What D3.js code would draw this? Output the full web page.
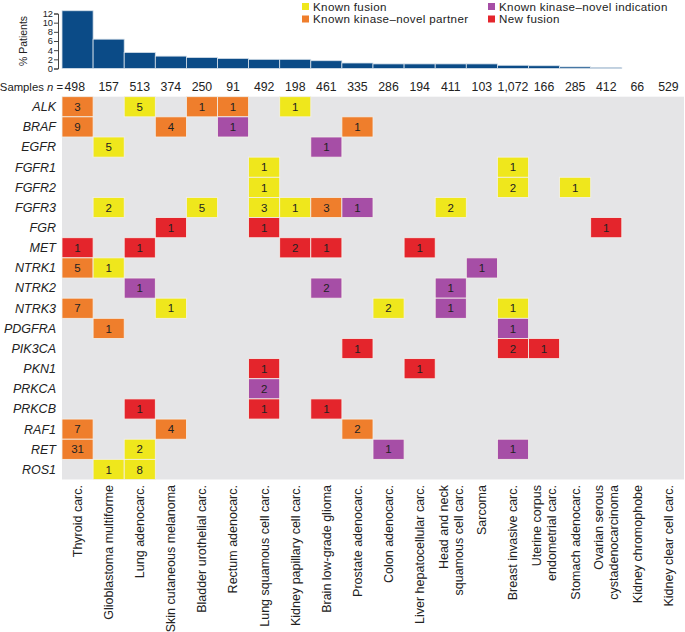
<!DOCTYPE html>
<html>
<head>
<meta charset="utf-8">
<script src="https://cdn.jsdelivr.net/npm/d3@7"></script>
<style>
  body { margin: 0; background: #fff; }
  text { font-family: "Liberation Sans", Arial, Helvetica, sans-serif; fill: #222; }
</style>
</head>
<body>
<div id="vis"></div>
<script>
// tumour types (columns)
var cancers = [
    ['Thyroid carc.'], ['Glioblastoma multiforme'], ['Lung adenocarc.'], ['Skin cutaneous melanoma'],
    ['Bladder urothelial carc.'], ['Rectum adenocarc.'], ['Lung squamous cell carc.'],
    ['Kidney papillary cell carc.'], ['Brain low-grade glioma'], ['Prostate adenocarc.'],
    ['Colon adenocarc.'], ['Liver hepatocellular carc.'], ['Head and neck', 'squamous cell carc.'],
    ['Sarcoma'], ['Breast invasive carc.'], ['Uterine corpus', 'endometrial carc.'],
    ['Stomach adenocarc.'], ['Ovarian serous', 'cystadenocarcinoma'], ['Kidney chromophobe'],
    ['Kidney clear cell carc.']
];
var samples = ['498', '157', '513', '374', '250', '91', '492', '198', '461', '335',
    '286', '194', '411', '103', '1,072', '166', '285', '412', '66', '529'];
var pctPatients = [12.6, 6.4, 3.5, 2.7, 2.4, 2.2, 2.0, 2.0, 1.7, 1.2,
    1.0, 1.0, 1.0, 1.0, 0.7, 0.6, 0.35, 0.24, 0, 0];

var genes = ['ALK', 'BRAF', 'EGFR', 'FGFR1', 'FGFR2', 'FGFR3', 'FGR', 'MET', 'NTRK1', 'NTRK2',
    'NTRK3', 'PDGFRA', 'PIK3CA', 'PKN1', 'PRKCA', 'PRKCB', 'RAF1', 'RET', 'ROS1'];

var types = ['Known fusion', 'Known kinase\u2013novel partner', 'Known kinase\u2013novel indication', 'New fusion'];
var typeColors = ['#efe71c', '#ef7e2c', '#a64ea6', '#e4252c'];

// gene, column index, count, type index
var fusions = [
    ['ALK', 0, 3, 1], ['ALK', 2, 5, 0], ['ALK', 4, 1, 1], ['ALK', 5, 1, 1], ['ALK', 7, 1, 0],
    ['BRAF', 0, 9, 1], ['BRAF', 3, 4, 1], ['BRAF', 5, 1, 2], ['BRAF', 9, 1, 1],
    ['EGFR', 1, 5, 0], ['EGFR', 8, 1, 2],
    ['FGFR1', 6, 1, 0], ['FGFR1', 14, 1, 0],
    ['FGFR2', 6, 1, 0], ['FGFR2', 14, 2, 0], ['FGFR2', 16, 1, 0],
    ['FGFR3', 1, 2, 0], ['FGFR3', 4, 5, 0], ['FGFR3', 6, 3, 0], ['FGFR3', 7, 1, 0],
    ['FGFR3', 8, 3, 1], ['FGFR3', 9, 1, 2], ['FGFR3', 12, 2, 0],
    ['FGR', 3, 1, 3], ['FGR', 6, 1, 3], ['FGR', 17, 1, 3],
    ['MET', 0, 1, 3], ['MET', 2, 1, 3], ['MET', 7, 2, 3], ['MET', 8, 1, 3], ['MET', 11, 1, 3],
    ['NTRK1', 0, 5, 1], ['NTRK1', 1, 1, 0], ['NTRK1', 13, 1, 2],
    ['NTRK2', 2, 1, 2], ['NTRK2', 8, 2, 2], ['NTRK2', 12, 1, 2],
    ['NTRK3', 0, 7, 1], ['NTRK3', 3, 1, 0], ['NTRK3', 10, 2, 0], ['NTRK3', 12, 1, 2], ['NTRK3', 14, 1, 0],
    ['PDGFRA', 1, 1, 1], ['PDGFRA', 14, 1, 2],
    ['PIK3CA', 9, 1, 3], ['PIK3CA', 14, 2, 3], ['PIK3CA', 15, 1, 3],
    ['PKN1', 6, 1, 3], ['PKN1', 11, 1, 3],
    ['PRKCA', 6, 2, 2],
    ['PRKCB', 2, 1, 3], ['PRKCB', 6, 1, 3], ['PRKCB', 8, 1, 3],
    ['RAF1', 0, 7, 1], ['RAF1', 3, 4, 1], ['RAF1', 9, 2, 1],
    ['RET', 0, 31, 1], ['RET', 2, 2, 0], ['RET', 10, 1, 2], ['RET', 14, 1, 2],
    ['ROS1', 1, 1, 0], ['ROS1', 2, 8, 0]
];
var pctTicks = [0, 2, 4, 6, 8, 10, 12];

var svg = d3.select('#vis')
    .append('svg')
    .attr('width', 685)
    .attr('height', 632);

var gridLeft = 62, gridRight = 684;
var gridTop = 96.7, gridBottom = 479.5;

var xScale = d3.scaleBand()
    .domain(d3.range(cancers.length))
    .range([gridLeft, gridRight]);

var yScale = d3.scaleBand()
    .domain(genes)
    .range([gridTop, gridBottom]);

var pScale = d3.scaleLinear()
    .domain([0, 12])
    .range([68.5, 13.5]);

// bar chart
svg.append('g').selectAll('rect')
    .data(pctPatients)
    .enter().append('rect')
    .attr('x', function(d, i) { return xScale(i); })
    .attr('width', xScale.bandwidth())
    .attr('y', function(d) { return pScale(d); })
    .attr('height', function(d) { return pScale(0) - pScale(d); })
    .attr('fill', '#0b4b87')
    .attr('stroke', '#d6e0ea')
    .attr('stroke-width', 0.8);

var yAxis = d3.axisLeft(pScale)
    .tickValues(pctTicks)
    .tickSize(4);

var axisG = svg.append('g')
    .attr('transform', 'translate(58,0)')
    .call(yAxis);
axisG.selectAll('text')
    .style('font-family', '"Liberation Sans", Arial, sans-serif')
    .style('font-size', '9.3px')
    .attr('x', -5)
    .attr('fill', '#333');
axisG.selectAll('line, path').attr('stroke', '#444');

svg.append('text')
    .attr('transform', 'translate(27,41)rotate(-90)')
    .style('text-anchor', 'middle')
    .style('font-size', '10.5px')
    .text('% Patients');

// legend
var legend = svg.append('g').selectAll('g')
    .data(types)
    .enter().append('g')
    .attr('transform', function(d, i) {
        return 'translate(' + (i < 2 ? 302 : 488) + ',' + (i % 2 === 0 ? 3 : 15.5) + ')';
    });
legend.append('rect')
    .attr('width', 7)
    .attr('height', 7)
    .attr('fill', function(d, i) { return typeColors[i]; });
legend.append('text')
    .attr('x', 11)
    .attr('y', 7.6)
    .style('font-size', '11.6px')
    .style('letter-spacing', '0.35px')
    .text(function(d) { return d; });

// sample counts
var samplesLabel = svg.append('text')
    .attr('x', 63)
    .attr('y', 91)
    .style('text-anchor', 'end')
    .style('font-size', '11.3px');
samplesLabel.append('tspan').text('Samples ');
samplesLabel.append('tspan').style('font-style', 'italic').text('n');
samplesLabel.append('tspan').text(' =');

svg.append('g').selectAll('text')
    .data(samples)
    .enter().append('text')
    .attr('x', function(d, i) { return i === 0 ? xScale(i) + 2.5 : xScale(i) + xScale.bandwidth() / 2; })
    .attr('y', 91)
    .style('text-anchor', function(d, i) { return i === 0 ? 'start' : 'middle'; })
    .style('font-size', '12.3px')
    .text(function(d) { return d; });

// grid background
svg.append('rect')
    .attr('x', gridLeft)
    .attr('y', gridTop)
    .attr('width', gridRight - gridLeft)
    .attr('height', gridBottom - gridTop)
    .attr('fill', '#e5e5e7');

// gene labels
svg.append('g').selectAll('text')
    .data(genes)
    .enter().append('text')
    .attr('x', 56)
    .attr('y', function(d) { return yScale(d) + yScale.bandwidth() / 2; })
    .attr('dy', '0.35em')
    .style('text-anchor', 'end')
    .style('font-style', 'italic')
    .style('font-size', '12.5px')
    .text(function(d) { return d; });

// fusion cells
var cells = svg.append('g').selectAll('g')
    .data(fusions)
    .enter().append('g');

cells.append('rect')
    .attr('x', function(d) { return xScale(d[1]); })
    .attr('y', function(d) { return yScale(d[0]); })
    .attr('width', xScale.bandwidth())
    .attr('height', yScale.bandwidth())
    .attr('fill', function(d) { return typeColors[d[3]]; })
    .attr('stroke', '#f3f0ea')
    .attr('stroke-width', 0.8);

cells.append('text')
    .attr('x', function(d) { return xScale(d[1]) + xScale.bandwidth() / 2; })
    .attr('y', function(d) { return yScale(d[0]) + yScale.bandwidth() / 2; })
    .attr('dy', '0.36em')
    .style('text-anchor', 'middle')
    .style('font-size', '11.5px')
    .attr('fill', '#333')
    .text(function(d) { return d[2]; });

// cancer labels, rotated
var colLabels = svg.append('g').selectAll('g')
    .data(cancers)
    .enter().append('g');

colLabels.each(function(lines, i) {
    var cx = xScale(i) + xScale.bandwidth() / 2;
    var sel = d3.select(this);
    lines.forEach(function(line, j) {
        var off = lines.length === 1 ? 0 : (j === 0 ? -7.5 : 7.5);
        sel.append('text')
            .attr('transform', 'translate(' + (cx + off) + ',485)rotate(-90)')
            .attr('dy', '0.35em')
            .style('text-anchor', 'end')
            .style('font-size', '12.5px')
            .text(line);
    });
});
</script>
</body>
</html>
